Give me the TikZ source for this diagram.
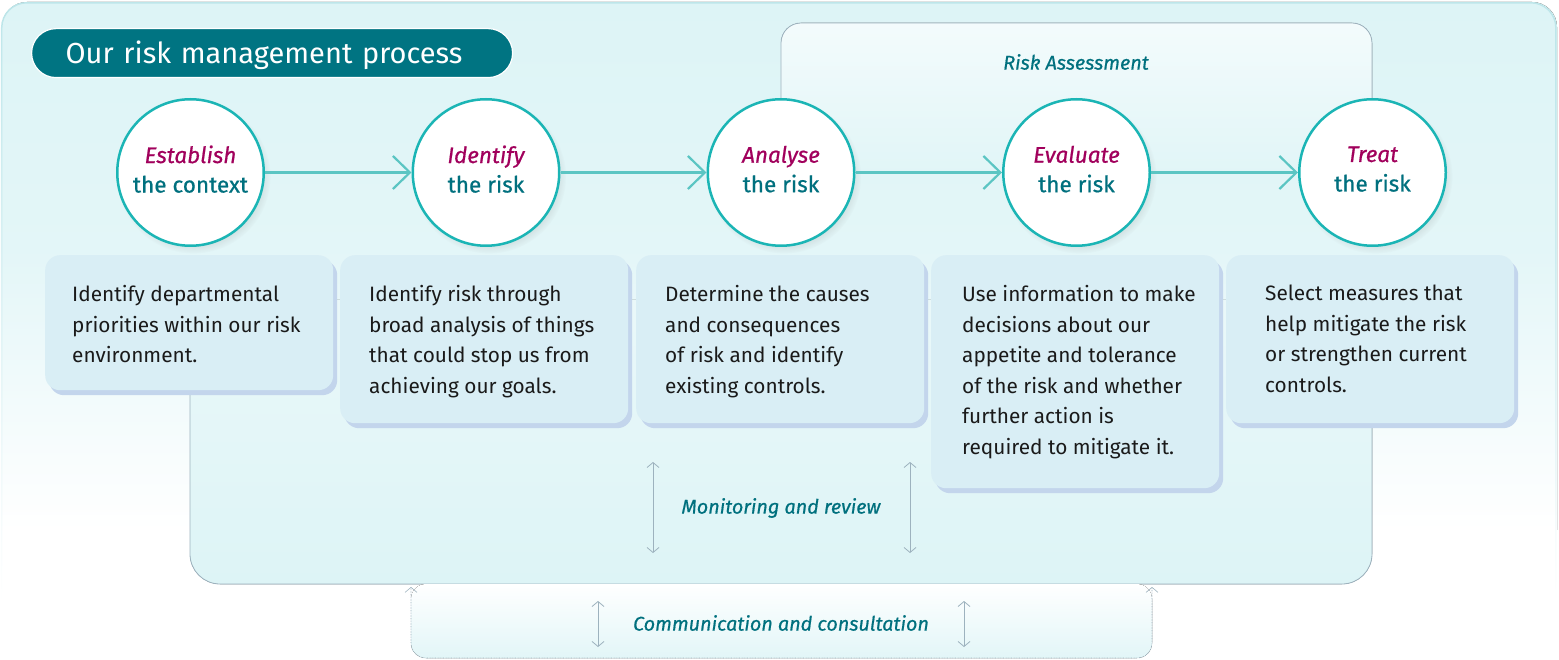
\documentclass[tikz,border=0pt]{standalone}
\usepackage{fontspec}
\setmainfont{Fira Sans}
\newfontfamily\firamed{Fira Sans}[FakeBold=0.6]
\usetikzlibrary{arrows.meta,shadows,fadings,calc}
\definecolor{bgc}{HTML}{DDF4F6}
\definecolor{bgborder}{HTML}{BDE6EA}
\definecolor{titlec}{HTML}{007482}
\definecolor{circc}{HTML}{1BB5B5}
\definecolor{arrc}{HTML}{5BC5C3}
\definecolor{magc}{HTML}{A1005C}
\definecolor{tealc}{HTML}{00707E}
\definecolor{boxc}{HTML}{D9EEF5}
\definecolor{boxsh}{HTML}{C3D5EC}
\definecolor{grayc}{HTML}{9DB2BE}
\definecolor{textc}{HTML}{1A1A1A}
\tikzfading[name=fadeborder, top color=transparent!0, middle color=transparent!20, bottom color=transparent!100]
\tikzset{
  circ/.style={circle, draw=circc, line width=2.5pt, fill=white, minimum size=146.5pt, inner sep=0pt,
    align=center, font=\firamed\fontsize{22.5}{29.5}\selectfont,
    circular drop shadow={shadow xshift=3pt, shadow yshift=-4pt, shadow scale=1.05, opacity=0.22}},
  flow/.style={draw=arrc, line width=2.2pt, -{Straight Barb[length=17pt, width=33pt]}},
  descbox/.style={fill=boxc, rounded corners=15pt, anchor=north west, inner sep=0pt,
    minimum width=288pt, general shadow={fill=boxsh, shadow xshift=4pt, shadow yshift=-5pt}},
  desctext/.style={anchor=north west, align=left, inner sep=0pt, text=textc,
    font=\fontsize{20.8}{30.6}\selectfont},
  labtext/.style={text=tealc, font=\firamed\itshape\fontsize{19.8}{22}\selectfont, inner sep=0pt},
  garrow/.style={draw=grayc, line width=0.8pt, {Straight Barb[length=5pt, width=12pt]}-{Straight Barb[length=5pt, width=12pt]}},
}
\newcommand{\ctext}[2]{{\itshape\color{magc}#1}\\\color{tealc}#2\rule[-7pt]{0pt}{7pt}}
\begin{document}
\begin{tikzpicture}[x=1pt, y=-1pt]
\useasboundingbox (0,0) rectangle (1559,660);
% outer background
\begin{scope}
  \clip[rounded corners=25pt] (2,2) rectangle (1557,700);
  \fill[top color=bgc, bottom color=bgc!82!white] (0,0) rectangle (1559,250);
  \fill[top color=bgc!82!white, bottom color=white] (0,250) rectangle (1559,530);
\end{scope}
\draw[bgborder, line width=1.5pt, rounded corners=25pt, path fading=fadeborder] (2,600) -- (2,2) -- (1557,2) -- (1557,600);
% risk assessment frame
\fill[top color=bgc!35!white, bottom color=bgc!88!white, rounded corners=20pt] (781,172) -- (781,23) -- (1372,23) -- (1372,172) -- cycle;
\draw[grayc, line width=0.8pt, rounded corners=20pt] (781,172) -- (781,23) -- (1372,23) -- (1372,172);
\node[labtext] (ra) at (1076,62) {Risk Assessment};
% monitoring frame
\fill[top color=bgc!62!white, middle color=bgc!50!white, bottom color=bgc, rounded corners=30pt] (190,300) rectangle (1372,584);
\draw[grayc, line width=0.8pt, rounded corners=30pt] (190,300) -- (190,584) -- (1372,584) -- (1372,300);
% communication frame
\fill[top color=white, bottom color=bgc!85!white, rounded corners=15pt] (411,584) -- (411,658) -- (1152,658) -- (1152,584) -- cycle;
\draw[grayc, line width=0.6pt, dash pattern=on 0.7pt off 0.9pt, rounded corners=15pt,
  {Straight Barb[length=5pt, width=12pt]}-{Straight Barb[length=5pt, width=12pt]}] (411,587) -- (411,658) -- (1152,658) -- (1152,587);
% title
\node[fill=titlec, draw=white, line width=1.2pt, rounded corners=24.5pt, anchor=north west,
  minimum width=481pt, minimum height=49pt, inner xsep=34pt, inner ysep=0pt, text width=413pt, align=left,
  text height=21pt, text depth=0pt, text=white, font=\fontsize{29}{29}\selectfont] (title) at (31,28) {Our risk management process};
% circles
\node[circ] (c1) at (190.5,172.5) {\ctext{Establish}{the context}};
\node[circ] (c2) at (486,172.5) {\ctext{Identify}{the risk}};
\node[circ] (c3) at (781,172.5) {\ctext{Analyse}{the risk}};
\node[circ] (c4) at (1076.5,172.5) {\ctext{Evaluate}{the risk}};
\node[circ] (c5) at (1372.5,172.5) {\ctext{Treat}{the risk}};
\draw[flow] (c1) -- (c2);
\draw[flow] (c2) -- (c3);
\draw[flow] (c3) -- (c4);
\draw[flow] (c4) -- (c5);
% description boxes
\node[descbox, minimum height=135pt] (b1) at (45,255) {};
\node[descbox, minimum height=168pt] (b2) at (340,255) {};
\node[descbox, minimum height=168pt] (b3) at (636,255) {};
\node[descbox, minimum height=233pt] (b4) at (931,255) {};
\node[descbox, minimum height=168pt] (b5) at (1226,255) {};
\node[desctext] (t1) at (72,285) {Identify departmental\\priorities within our risk\\environment.};
\node[desctext] (t2) at (369,285) {Identify risk through\\broad analysis of things\\that could stop us from\\achieving our goals.};
\node[desctext] (t3) at (665,285) {Determine the causes\\and consequences\\of risk and identify\\existing controls.};
\node[desctext] (t4) at (962,285) {Use information to make\\decisions about our\\appetite and tolerance\\of the risk and whether\\further action is\\required to mitigate it.};
\node[desctext] (t5) at (1265,285) {Select measures that\\help mitigate the risk\\or strengthen current\\controls.};
% monitoring and review
\node[labtext] (mon) at (781,508) {Monitoring and review};
\coordinate (m1a) at (653,462); \coordinate (m1b) at (653,553);
\coordinate (m2a) at (910,462); \coordinate (m2b) at (910,553);
\draw[garrow] (m1a) -- (m1b);
\draw[garrow] (m2a) -- (m2b);
% communication and consultation
\node[labtext] (com) at (781,623) {Communication and consultation};
\coordinate (k1a) at (598,601); \coordinate (k1b) at (598,647);
\coordinate (k2a) at (964,601); \coordinate (k2b) at (964,647);
\draw[garrow] (k1a) -- (k1b);
\draw[garrow] (k2a) -- (k2b);
\end{tikzpicture}
\end{document}
